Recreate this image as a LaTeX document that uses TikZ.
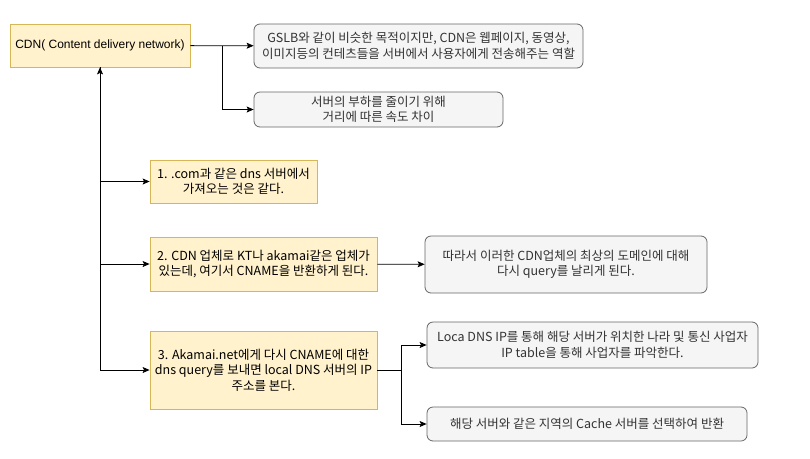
\documentclass[tikz,border=0pt]{standalone}
\usepackage{fontspec}
\setmainfont{Noto Sans CJK KR}
\newfontfamily\latinfont{Liberation Sans}
\usepackage{tikz}
\usetikzlibrary{arrows.meta, positioning, calc}

\definecolor{noteFill}{HTML}{FFF2CC}
\definecolor{noteLine}{HTML}{D6B656}
\definecolor{boxFill}{HTML}{F5F5F5}
\definecolor{boxLine}{HTML}{666666}
\definecolor{boxText}{HTML}{333333}

\begin{document}
\begin{tikzpicture}[x=1pt, y=-1pt,
    font=\fontsize{12.5}{15.5}\selectfont,
    note/.style={rectangle, draw=noteLine, fill=noteFill, line width=0.8pt, inner sep=0pt, align=center},
    info/.style={rectangle, rounded corners=6pt, draw=boxLine, fill=boxFill, text=boxText, line width=0.8pt, inner sep=0pt, align=center},
    arr/.style={-{Stealth[length=7pt, width=6pt, inset=1.5pt]}, line width=0.8pt}]
    \useasboundingbox (0,0) rectangle (810,458);

    \node[note, minimum width=180pt, minimum height=43pt, font=\latinfont\fontsize{12}{15}\selectfont] (cdn) at (100,45.5) {CDN( Content delivery network)};
    \node[info, minimum width=329pt, minimum height=44pt] (a) at (418.5,46) {GSLB와 같이 비슷한 목적이지만, CDN은 웹페이지, 동영상,\\이미지등의 컨테츠들을 서버에서 사용자에게 전송해주는 역할};
    \node[info, minimum width=249pt, minimum height=35pt] (b) at (378.5,109.5) {서버의 부하를 줄이기 위해\\거리에 따른 속도 차이};
    \node[note, minimum width=167pt, minimum height=43pt] (1) at (233.5,181.5) {1. .com과 같은 dns 서버에서\\가져오는 것은 같다.};
    \node[note, minimum width=227pt, minimum height=54pt] (2) at (263.5,264) {2. CDN 업체로 KT나 akamai같은 업체가\\있는데, 여기서 CNAME을 반환하게 된다.};
    \node[info, minimum width=282pt, minimum height=57pt] (2r) at (566,264.5) {따라서 이러한 CDN업체의 최상의 도메인에 대해\\다시 query를 날리게 된다.};
    \node[note, minimum width=227pt, minimum height=78pt] (3) at (263.5,370) {3. Akamai.net에게 다시 CNAME에 대한\\dns query를 보내면 local DNS 서버의 IP\\주소를 본다.};
    \node[info, minimum width=331pt, minimum height=46pt] (3a) at (592.5,345) {Loca DNS IP를 통해 해당 서버가 위치한 나라 및 통신 사업자\\IP table을 통해 사업자를 파악한다.};
    \node[info, minimum width=320pt, minimum height=34pt] (3b) at (587,424) {해당 서버와 같은 지역의 Cache 서버를 선택하여 반환};

    \coordinate (j1) at (222,45.5);
    \coordinate (j2) at (100,370);
    \coordinate (j3) at (401,370);

    \draw[arr] (cdn) -- (a);
    \draw[arr] (j1) |- (b);
    \draw[arr] (j2) -- (cdn);
    \draw[arr] (cdn) |- (1);
    \draw[arr] (cdn) |- (2);
    \draw[arr] (cdn) |- (3);
    \draw[arr] (2) -- (2r);
    \draw[line width=0.8pt] (3) -- (j3);
    \draw[arr] (j3) |- (3a);
    \draw[arr] (j3) |- (3b);
\end{tikzpicture}
\end{document}
